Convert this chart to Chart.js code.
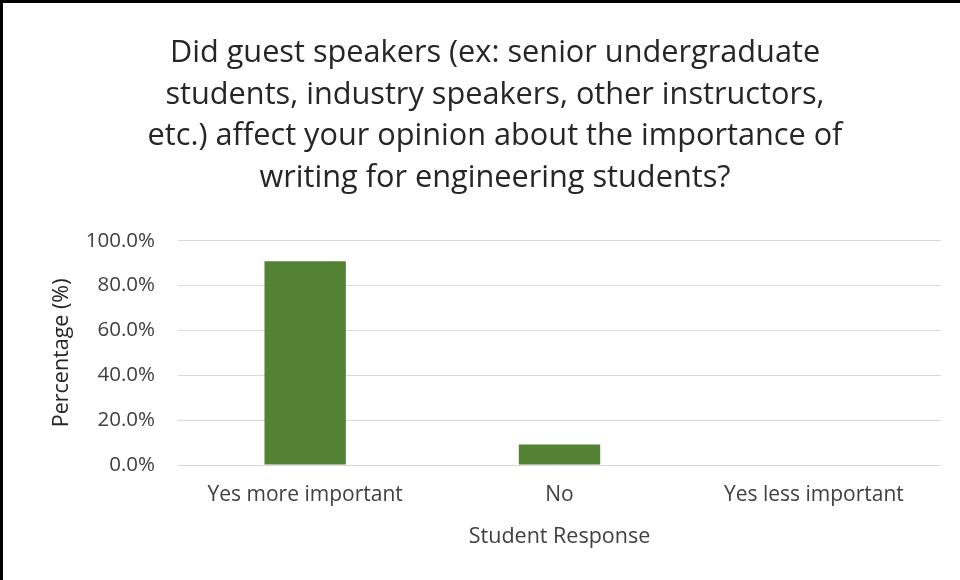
<!DOCTYPE html>
<html>
<head>
<meta charset="utf-8">
<script src="https://cdn.jsdelivr.net/npm/chart.js@4.4.1/dist/chart.umd.min.js"></script>
<style>
  html, body { margin: 0; padding: 0; background: #fff; }
  #wrap {
    width: 957px;
    height: 577px;
    border-left: 3px solid #000;
    border-top: 3px solid #000;
    background: #fff;
  }
</style>
</head>
<body>
<div id="wrap"><canvas id="chart" width="957" height="577"></canvas></div>
<script>
// survey answers
const responses = ["Yes more important", "No", "Yes less important"];
const percentages = [90.9, 9.1, 0];
const yTicks = [0, 20, 40, 60, 80, 100];

const titleLines = [
  "Did guest speakers (ex: senior undergraduate",
  "students, industry speakers, other instructors,",
  "etc.) affect your opinion about the importance of",
  "writing for engineering students?"
];

const FONT = "'Open Sans', sans-serif";

const ctx = document.getElementById("chart").getContext("2d");

new Chart(ctx, {
  type: "bar",
  data: {
    labels: responses,
    datasets: [{
      label: "Percentage",
      data: percentages,
      backgroundColor: "#548235",
      borderWidth: 0,
      barPercentage: 1,
      categoryPercentage: 0.32
    }]
  },
  options: {
    responsive: false,
    animation: false,
    layout: { padding: { left: 46, right: 19, top: 0, bottom: 30 } },
    plugins: {
      legend: { display: false },
      tooltip: { enabled: false },
      title: {
        display: true,
        text: titleLines,
        color: "#262626",
        font: { family: FONT, size: 30.7, weight: "normal", lineHeight: 1.35 },
        padding: { top: 30, bottom: 42 }
      }
    },
    scales: {
      x: {
        grid: { display: false, drawTicks: false },
        border: { display: false },
        ticks: { color: "#404040", font: { family: FONT, size: 21 }, padding: 17, maxRotation: 0 },
        title: {
          display: true,
          text: "Student Response",
          color: "#404040",
          font: { family: FONT, size: 21.5 },
          padding: { top: 0, bottom: 0 }
        }
      },
      y: {
        min: 0,
        max: 100,
        afterBuildTicks: (scale) => {
          scale.ticks = yTicks.map(v => ({ value: v }));
        },
        // fixed axis width so the plot starts where the ticks end
        afterFit: (scale) => { scale.width = 129; },
        grid: { color: "#d9d9d9", lineWidth: 1, drawTicks: false },
        border: { display: false },
        ticks: {
          color: "#404040",
          font: { family: FONT, size: 20.5 },
          padding: 23,
          callback: (v) => v.toFixed(1) + "%"
        },
        title: {
          display: true,
          text: "Percentage (%)",
          color: "#262626",
          font: { family: FONT, size: 21.5 },
          padding: { top: 0, bottom: 0 }
        }
      }
    }
  }
});
</script>
</body>
</html>
